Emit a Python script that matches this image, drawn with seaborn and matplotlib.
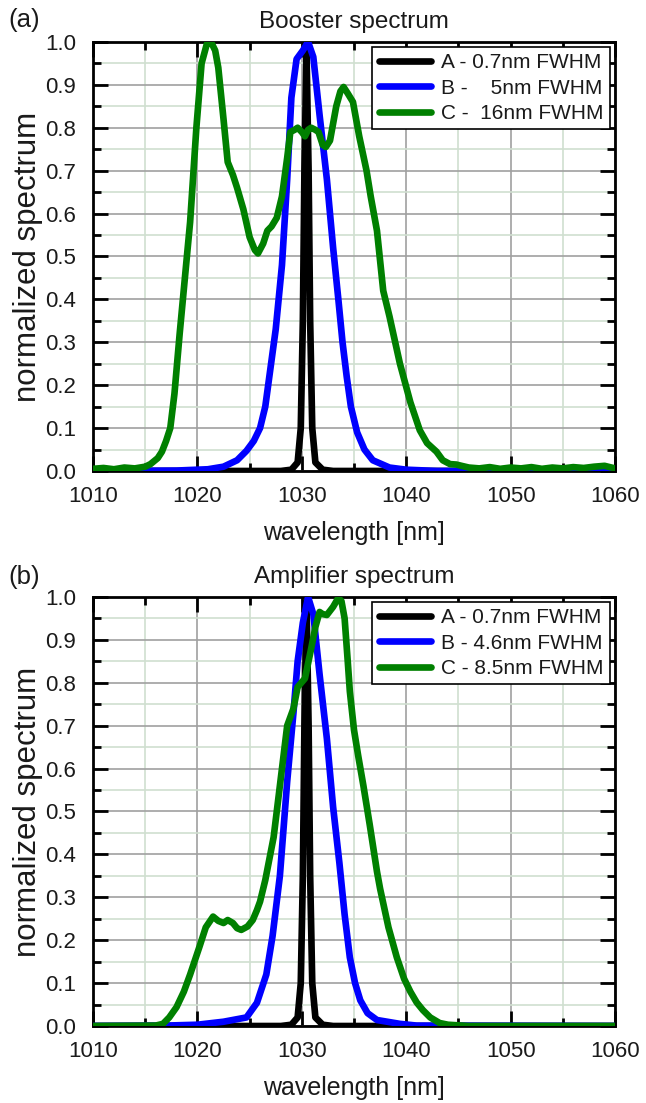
import numpy as np
import pandas as pd
import seaborn as sns
import matplotlib.pyplot as plt
from matplotlib.ticker import MultipleLocator

# ---- data ----
booster_a_x = [1010, 1028, 1029, 1029.6, 1029.9, 1030.1, 1030.25, 1030.45, 1030.65, 1030.8, 1031.0, 1031.3, 1032, 1033, 1060]
booster_a_y = [0, 0, 0.003, 0.02, 0.1, 0.35, 0.7, 0.98, 0.7, 0.35, 0.1, 0.02, 0.003, 0, 0]

booster_b_x = [1010, 1018, 1021, 1022.5, 1023.8, 1024.7, 1025.4, 1026.0, 1026.5, 1027.0, 1027.5, 1028.1,
               1028.6, 1029.0, 1029.5, 1030.1, 1030.6, 1031.1, 1031.7, 1032.4, 1033.0, 1033.5, 1033.9,
               1034.3, 1034.7, 1035.3, 1036.0, 1036.8, 1038.4, 1040, 1043, 1060]
booster_b_y = [0, 0.001, 0.004, 0.01, 0.025, 0.047, 0.07, 0.10, 0.15, 0.24, 0.33, 0.48,
               0.68, 0.87, 0.96, 0.98, 1.0, 0.965, 0.83, 0.68, 0.52, 0.40, 0.30,
               0.22, 0.15, 0.09, 0.05, 0.025, 0.008, 0.003, 0, 0]

booster_c_x = [1010, 1011, 1012, 1013, 1014, 1015, 1015.5, 1016.2, 1016.6, 1017.0, 1017.4, 1017.8, 1018.3, 1018.8,
               1019.3, 1019.9, 1020.4, 1020.9, 1021.3, 1021.7, 1022.0, 1022.5, 1022.9, 1023.4, 1023.8,
               1024.4, 1025.0, 1025.5, 1025.8, 1026.3, 1026.7, 1027.1, 1027.6, 1028.1, 1028.6, 1028.9,
               1029.3, 1029.6, 1030.0, 1030.3, 1030.6, 1030.9, 1031.3, 1031.6, 1032.0, 1032.3, 1032.7,
               1033.0, 1033.3, 1033.7, 1034.0, 1034.4, 1034.9, 1035.5, 1036.2, 1036.6, 1037.2, 1037.8,
               1038.4, 1039.4, 1040.4, 1041.3, 1042.0, 1042.9, 1043.5, 1044.2, 1044.8, 1045.3, 1046,
               1047, 1048, 1049, 1050, 1051, 1052, 1053, 1054, 1055, 1056, 1057, 1058, 1059, 1060]
booster_c_y = [0.005, 0.007, 0.004, 0.008, 0.006, 0.01, 0.016, 0.03, 0.045, 0.07, 0.10, 0.18, 0.32, 0.45,
               0.58, 0.80, 0.95, 0.995, 1.0, 0.98, 0.94, 0.82, 0.72, 0.69, 0.66,
               0.61, 0.545, 0.515, 0.507, 0.53, 0.56, 0.57, 0.59, 0.64, 0.73, 0.79,
               0.795, 0.80, 0.79, 0.78, 0.795, 0.80, 0.795, 0.79, 0.76, 0.755, 0.77,
               0.81, 0.85, 0.885, 0.895, 0.88, 0.86, 0.78, 0.70, 0.64, 0.56, 0.42,
               0.36, 0.25, 0.16, 0.095, 0.065, 0.045, 0.025, 0.016, 0.015, 0.012, 0.008,
               0.006, 0.009, 0.005, 0.008, 0.006, 0.009, 0.005, 0.008, 0.006, 0.009, 0.007, 0.010, 0.012, 0.006]

amp_a_x = [1010, 1028, 1029, 1029.6, 1029.9, 1030.1, 1030.25, 1030.45, 1030.65, 1030.8, 1031.0, 1031.3, 1032, 1033, 1060]
amp_a_y = [0, 0, 0.003, 0.02, 0.1, 0.35, 0.7, 0.99, 0.7, 0.35, 0.1, 0.02, 0.003, 0, 0]

amp_b_x = [1010, 1017, 1020, 1022.5, 1024.7, 1025.7, 1026.6, 1027.2, 1027.9, 1028.6, 1029.2, 1029.6,
           1030.1, 1030.6, 1031.1, 1031.7, 1032.4, 1033.0, 1033.6, 1034.1, 1034.6, 1035.1, 1035.6,
           1036.3, 1037.2, 1039.4, 1041, 1060]
amp_b_y = [0, 0.001, 0.003, 0.01, 0.02, 0.054, 0.12, 0.21, 0.35, 0.57, 0.73, 0.85,
           0.94, 1.0, 0.96, 0.82, 0.67, 0.51, 0.38, 0.26, 0.16, 0.10, 0.06,
           0.03, 0.014, 0.005, 0.001, 0]

amp_c_x = [1010, 1016, 1016.7, 1017.3, 1018.0, 1018.7, 1019.3, 1020.2, 1020.8, 1021.5, 1022.0, 1022.5,
           1022.9, 1023.4, 1023.8, 1024.2, 1024.8, 1025.3, 1025.7, 1026.0, 1026.5, 1027.3, 1027.9,
           1028.6, 1029.2, 1029.6, 1030.3, 1030.9, 1031.3, 1031.7, 1032.0, 1032.4, 1033.0, 1033.5,
           1033.8, 1034.1, 1034.4, 1034.6, 1035.0, 1035.4, 1035.9, 1036.5, 1037.2, 1037.5, 1038.3,
           1039.1, 1039.8, 1040.4, 1041.0, 1041.6, 1042.3, 1043.2, 1044, 1046, 1060]
amp_c_y = [0, 0.001, 0.005, 0.02, 0.044, 0.08, 0.12, 0.185, 0.23, 0.255, 0.245, 0.24,
           0.247, 0.24, 0.228, 0.224, 0.232, 0.247, 0.27, 0.29, 0.34, 0.44, 0.56,
           0.70, 0.74, 0.79, 0.81, 0.88, 0.93, 0.965, 0.96, 0.958, 0.977, 0.998,
           0.99, 0.95, 0.85, 0.78, 0.69, 0.63, 0.56, 0.47, 0.36, 0.32, 0.23,
           0.16, 0.11, 0.08, 0.055, 0.037, 0.02, 0.007, 0.003, 0, 0]

booster_labels = ["A - 0.7nm FWHM", "B -    5nm FWHM", "C -  16nm FWHM"]
amp_labels = ["A - 0.7nm FWHM", "B - 4.6nm FWHM", "C - 8.5nm FWHM"]
colors = ["#000000", "#0000ff", "#008000"]


def long_df(xs, ys, labels):
    parts = []
    for x, y, lab in zip(xs, ys, labels):
        parts.append(pd.DataFrame({"wavelength": x, "spectrum": y, "series": lab}))
    return pd.concat(parts, ignore_index=True)


booster = long_df([booster_a_x, booster_b_x, booster_c_x], [booster_a_y, booster_b_y, booster_c_y], booster_labels)
amp = long_df([amp_a_x, amp_b_x, amp_c_x], [amp_a_y, amp_b_y, amp_c_y], amp_labels)

sns.set_style("ticks")
plt.rcParams["font.family"] = ["Liberation Sans", "DejaVu Sans"]
plt.rcParams["text.color"] = "#1a1a1a"
plt.rcParams["axes.labelcolor"] = "#1a1a1a"
plt.rcParams["xtick.labelcolor"] = "#1a1a1a"
plt.rcParams["ytick.labelcolor"] = "#1a1a1a"

fig = plt.figure(figsize=(6.46, 11.03), dpi=100)
ax1 = fig.add_axes([0.144, 0.573, 0.808, 0.389])
ax2 = fig.add_axes([0.144, 0.0698, 0.808, 0.389])

for ax, df, labels, title, tag, tag_y in [(ax1, booster, booster_labels, "Booster spectrum", "(a)", 20),
                                          (ax2, amp, amp_labels, "Amplifier spectrum", "(b)", 577)]:
    sns.lineplot(data=df, x="wavelength", y="spectrum", hue="series", hue_order=labels,
                 palette=colors, linewidth=4.8, ax=ax, zorder=3)
    ax.set_xlim(1010, 1060)
    ax.set_ylim(0, 1.0)
    ax.xaxis.set_major_locator(MultipleLocator(10))
    ax.xaxis.set_minor_locator(MultipleLocator(5))
    ax.yaxis.set_major_locator(MultipleLocator(0.1))
    ax.yaxis.set_minor_locator(MultipleLocator(0.05))
    ax.yaxis.set_major_formatter(plt.FormatStrFormatter("%.1f"))
    ax.grid(which="major", color="#a0a0a0", linewidth=1.2, zorder=0)
    ax.grid(which="minor", color="#d0dfd0", linewidth=1.2, zorder=0)
    ax.set_axisbelow(True)
    ax.tick_params(which="both", direction="in", top=True, right=True, color="black")
    ax.tick_params(which="major", length=11, width=2, labelsize=16)
    ax.tick_params(axis="x", which="major", pad=11)
    ax.tick_params(axis="y", which="major", pad=12)
    ax.tick_params(which="minor", length=6, width=2)
    for s in ax.spines.values():
        s.set_linewidth(2)
        s.set_color("black")
    ax.set_xlabel("wavelength [nm]", fontsize=18, labelpad=10)
    ax.set_ylabel("normalized spectrum", fontsize=22.5, labelpad=2)
    ax.set_title(title, fontsize=17.5, pad=10)
    fig.text(8 / 646, 1 - tag_y / 1103, tag, fontsize=18.5, ha="left", va="center")
    leg = ax.legend(loc="upper right", fontsize=15, frameon=True, fancybox=False, framealpha=1,
                    edgecolor="black", handlelength=2.5, handletextpad=0.5, labelspacing=0.3,
                    borderpad=0.3, borderaxespad=0.25)
    leg.get_frame().set_linewidth(1.2)

fig.savefig("out.png", dpi=100)
